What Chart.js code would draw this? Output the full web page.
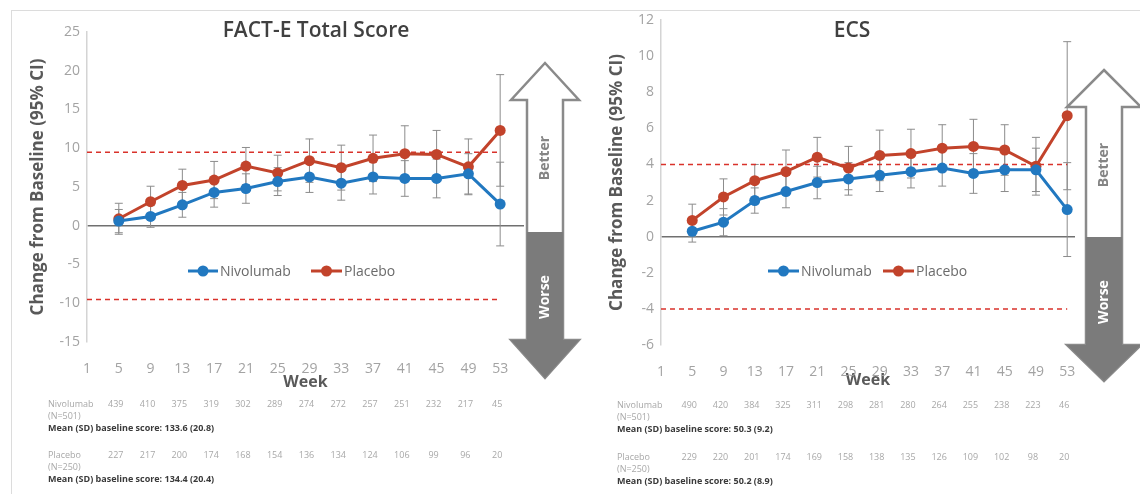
<!DOCTYPE html>
<html>
<head>
<meta charset="utf-8">
<script src="https://cdn.jsdelivr.net/npm/chart.js@4.4.1/dist/chart.umd.min.js"></script>
<style>
body{margin:0;background:#fff;width:1140px;height:494px;overflow:hidden;position:relative;font-family:'Open Sans',sans-serif}
.frame{position:absolute;left:11px;top:10px;right:-2px;bottom:-2px;border-left:1px solid #dcdcdc;border-top:1px solid #dcdcdc}
canvas{position:absolute;top:0}
#c1{left:0}
#c2{left:570px}
.title{position:absolute;top:15px;font-weight:600;font-size:21px;color:#404040;transform:translateX(-50%);white-space:nowrap}
.t{position:absolute;font-size:9px;line-height:10px;color:#a8a8a8;white-space:nowrap;transform:translateY(-50%)}
.n{transform:translate(-50%,-50%)}
.m{font-weight:700;color:#3a3a3a}
</style>
</head>
<body>
<div class="frame"></div>
<canvas id="c1" width="600" height="494"></canvas>
<canvas id="c2" width="570" height="494"></canvas>
<div class="title" style="left:316px">FACT-E Total Score</div>
<div class="title" style="left:852px">ECS</div>
<script>
const tickWeeks = [1, 5, 9, 13, 17, 21, 25, 29, 33, 37, 41, 45, 49, 53];
const weeks = [5, 9, 13, 17, 21, 25, 29, 33, 37, 41, 45, 49, 53];

// FACT-E total score, change from baseline and 95% CI half width
const facteNivo = [0.6, 1.2, 2.7, 4.3, 4.8, 5.7, 6.3, 5.5, 6.3, 6.1, 6.1, 6.7, 2.8];
const facteNivoCI = [1.5, 1.4, 1.6, 1.9, 1.9, 1.8, 2.0, 2.2, 2.2, 2.3, 2.5, 2.6, 5.4];
const factePlac = [0.9, 3.1, 5.2, 5.9, 7.7, 6.8, 8.4, 7.5, 8.7, 9.3, 9.2, 7.6, 12.3];
const factePlacCI = [2.0, 2.0, 2.1, 2.4, 2.4, 2.3, 2.8, 2.9, 3.0, 3.6, 3.1, 3.6, 7.2];
const facteMid = 9.5;

// ECS
const ecsNivo = [0.3, 0.8, 2.0, 2.5, 3.0, 3.2, 3.4, 3.6, 3.8, 3.5, 3.7, 3.7, 1.5];
const ecsNivoCI = [0.6, 0.75, 0.7, 0.9, 0.9, 0.9, 0.9, 0.9, 1.0, 1.1, 1.2, 1.2, 2.6];
const ecsPlac = [0.9, 2.2, 3.1, 3.6, 4.4, 3.8, 4.5, 4.6, 4.9, 5.0, 4.8, 3.9, 6.7];
const ecsPlacCI = [0.9, 1.0, 0.9, 1.2, 1.1, 1.2, 1.4, 1.35, 1.3, 1.5, 1.4, 1.6, 4.1];
const ecsMid = 4;

// patients at risk
const facteNivoN = [439, 410, 375, 319, 302, 289, 274, 272, 257, 251, 232, 217, 45];
const factePlacN = [227, 217, 200, 174, 168, 154, 136, 134, 124, 106, 99, 96, 20];
const ecsNivoN = [490, 420, 384, 325, 311, 298, 281, 280, 264, 255, 238, 223, 46];
const ecsPlacN = [229, 220, 201, 174, 169, 158, 138, 135, 126, 109, 102, 98, 20];

const BLUE = '#2178c0';
const RED = '#c2432b';

Chart.defaults.font.family = "'Open Sans', sans-serif";

const errorBars = {
  id: 'errorBars',
  beforeDatasetsDraw(chart, args, opts) {
    const ctx = chart.ctx;
    const y = chart.scales.y;
    ctx.save();
    ctx.strokeStyle = '#8c8c8c';
    ctx.lineWidth = 1;
    opts.ci.forEach((ci, di) => {
      const meta = chart.getDatasetMeta(di);
      const vals = chart.data.datasets[di].data;
      meta.data.forEach((pt, i) => {
        const top = y.getPixelForValue(vals[i].y + ci[i]);
        const bot = y.getPixelForValue(vals[i].y - ci[i]);
        ctx.beginPath();
        ctx.moveTo(pt.x, top); ctx.lineTo(pt.x, bot);
        ctx.moveTo(pt.x - 4, top); ctx.lineTo(pt.x + 4, top);
        ctx.moveTo(pt.x - 4, bot); ctx.lineTo(pt.x + 4, bot);
        ctx.stroke();
      });
    });
    ctx.restore();
  }
};

const decor = {
  id: 'decor',
  afterDraw(chart, args, o) {
    const ctx = chart.ctx;
    const a = o.arrow;
    ctx.save();
    // double arrow
    ctx.beginPath();
    ctx.moveTo(a.cx, a.tip);
    ctx.lineTo(a.cx + a.hh, a.headBase);
    ctx.lineTo(a.cx + a.sh, a.headBase);
    ctx.lineTo(a.cx + a.sh, a.lowBase);
    ctx.lineTo(a.cx + a.hh, a.lowBase);
    ctx.lineTo(a.cx, a.bottom);
    ctx.lineTo(a.cx - a.hh, a.lowBase);
    ctx.lineTo(a.cx - a.sh, a.lowBase);
    ctx.lineTo(a.cx - a.sh, a.headBase);
    ctx.lineTo(a.cx - a.hh, a.headBase);
    ctx.closePath();
    ctx.fillStyle = '#fff';
    ctx.fill();
    ctx.strokeStyle = '#8a8a8a';
    ctx.lineWidth = 2.5;
    ctx.stroke();
    ctx.beginPath();
    ctx.moveTo(a.cx - a.sh, a.split);
    ctx.lineTo(a.cx + a.sh, a.split);
    ctx.lineTo(a.cx + a.sh, a.lowBase);
    ctx.lineTo(a.cx + a.hh, a.lowBase);
    ctx.lineTo(a.cx, a.bottom);
    ctx.lineTo(a.cx - a.hh, a.lowBase);
    ctx.lineTo(a.cx - a.sh, a.lowBase);
    ctx.closePath();
    ctx.fillStyle = '#7b7b7b';
    ctx.fill();
    ctx.font = "bold 14px 'Open Sans'";
    ctx.textAlign = 'center';
    ctx.textBaseline = 'middle';
    ctx.fillStyle = '#858585';
    ctx.translate(a.cx, a.better);
    ctx.rotate(-Math.PI / 2);
    ctx.fillText('Better', 0, 0);
    ctx.rotate(Math.PI / 2);
    ctx.translate(0, a.worse - a.better);
    ctx.rotate(-Math.PI / 2);
    ctx.fillStyle = '#fff';
    ctx.fillText('Worse', 0, 0);
    ctx.restore();

    // legend
    ctx.save();
    ctx.font = "14px 'Open Sans'";
    ctx.textBaseline = 'middle';
    ctx.textAlign = 'left';
    o.legend.items.forEach((it, i) => {
      const ds = chart.data.datasets[i];
      ctx.strokeStyle = ds.borderColor;
      ctx.lineWidth = 3;
      ctx.beginPath();
      ctx.moveTo(it.x0, o.legend.y); ctx.lineTo(it.x1, o.legend.y);
      ctx.stroke();
      ctx.fillStyle = ds.borderColor;
      ctx.beginPath();
      ctx.arc((it.x0 + it.x1) / 2, o.legend.y, 5.5, 0, Math.PI * 2);
      ctx.fill();
      ctx.fillStyle = '#6b6b6b';
      ctx.fillText(ds.label, it.x1 + 2, o.legend.y + 1);
    });
    ctx.restore();
  }
};

function series(vals) {
  return weeks.map((w, i) => ({x: w, y: vals[i]}));
}

function makeChart(id, c) {
  return new Chart(document.getElementById(id), {
    type: 'line',
    data: {
      datasets: [
        {label: 'Nivolumab', data: series(c.nivo), borderColor: BLUE, backgroundColor: BLUE,
         borderWidth: 3, pointRadius: 5.5, pointBorderWidth: 0, clip: false},
        {label: 'Placebo', data: series(c.plac), borderColor: RED, backgroundColor: RED,
         borderWidth: 3, pointRadius: 5.5, pointBorderWidth: 0, clip: false},
        {label: 'upper', data: [{x: 1, y: c.mid}, {x: 53, y: c.mid}], borderColor: '#d9322b',
         borderWidth: 1.5, borderDash: [5, 4], pointRadius: 0},
        {label: 'lower', data: [{x: 1, y: -c.mid}, {x: 53, y: -c.mid}], borderColor: '#d9322b',
         borderWidth: 1.5, borderDash: [5, 4], pointRadius: 0}
      ]
    },
    options: {
      responsive: false,
      animation: false,
      layout: {padding: c.pad},
      plugins: {
        legend: {display: false},
        tooltip: {enabled: false},
        errorBars: {ci: [c.nivoCI, c.placCI]},
        decor: {arrow: c.arrow, legend: c.legend}
      },
      scales: {
        x: {
          type: 'linear', min: 1, max: c.xMax,
          afterBuildTicks: s => { s.ticks = tickWeeks.map(v => ({value: v})); },
          afterFit: s => { s.height = c.xh; },
          ticks: {color: '#a3a3a3', font: {size: 14}, padding: 11, maxRotation: 0, autoSkip: false},
          grid: {display: false},
          border: {display: false},
          title: {display: true, text: 'Week', color: '#595959', font: {size: 16, weight: 'bold'}, padding: 0}
        },
        y: {
          min: c.yMin, max: c.yMax,
          afterFit: s => { s.width = c.yw; },
          ticks: {stepSize: c.yStep, color: '#a3a3a3', font: {size: 14}, padding: 7},
          grid: {drawTicks: false, lineWidth: 1.5,
                 color: g => g.tick && g.tick.value === 0 ? '#707070' : 'rgba(0,0,0,0)'},
          border: {display: true, color: '#d4d4d4', width: 1.5},
          title: {display: true, text: 'Change from Baseline (95% CI)', color: '#595959',
                  font: {size: 17, weight: 'bold'}, padding: 0}
        }
      }
    },
    plugins: [errorBars, decor]
  });
}

const ch1 = makeChart('c1', {
  nivo: facteNivo, nivoCI: facteNivoCI, plac: factePlac, placCI: factePlacCI, mid: facteMid,
  yMin: -15, yMax: 25, yStep: 5, xMax: 56,
  pad: {top: 32, left: 28, right: 76, bottom: 102}, yw: 59, xh: 50,
  arrow: {cx: 545, tip: 63, headBase: 100, split: 232, lowBase: 340, bottom: 378, sh: 18, hh: 34, better: 158, worse: 297},
  legend: {y: 271, items: [{x0: 188, x1: 218}, {x0: 311, x1: 342}]}
});

const ch2 = makeChart('c2', {
  nivo: ecsNivo, nivoCI: ecsNivoCI, plac: ecsPlac, placCI: ecsPlacCI, mid: ecsMid,
  yMin: -6, yMax: 12, yStep: 2, xMax: 54,
  pad: {top: 20, left: 37, right: 65, bottom: 104}, yw: 54, xh: 45,
  arrow: {cx: 534, tip: 70, headBase: 107, split: 237, lowBase: 345, bottom: 381, sh: 18, hh: 37, better: 165, worse: 302},
  legend: {y: 271, items: [{x0: 198, x1: 229}, {x0: 313, x1: 344}]}
});

function addText(x, y, text, cls) {
  const d = document.createElement('div');
  d.className = 't ' + cls;
  d.style.left = x + 'px';
  d.style.top = y + 'px';
  d.textContent = text;
  document.body.appendChild(d);
}

function table(chart, offset, labelX, rows) {
  const xs = chart.scales.x;
  rows.forEach(r => {
    addText(labelX, r.y, r.name, '');
    addText(labelX, r.y + 12, r.n, '');
    addText(labelX, r.y + 24, r.mean, 'm');
    weeks.forEach((w, i) => addText(offset + xs.getPixelForValue(w) - 3, r.y, String(r.counts[i]), 'n'));
  });
}

table(ch1, 0, 48, [
  {y: 404, name: 'Nivolumab', n: '(N=501)', mean: 'Mean (SD) baseline score: 133.6 (20.8)', counts: facteNivoN},
  {y: 455, name: 'Placebo', n: '(N=250)', mean: 'Mean (SD) baseline score: 134.4 (20.4)', counts: factePlacN}
]);
table(ch2, 570, 617, [
  {y: 405, name: 'Nivolumab', n: '(N=501)', mean: 'Mean (SD) baseline score: 50.3 (9.2)', counts: ecsNivoN},
  {y: 457, name: 'Placebo', n: '(N=250)', mean: 'Mean (SD) baseline score: 50.2 (8.9)', counts: ecsPlacN}
]);
</script>
</body>
</html>
